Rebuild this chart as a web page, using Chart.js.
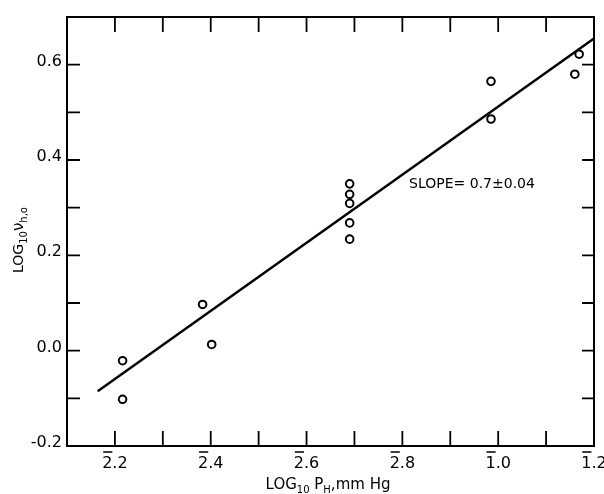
<!DOCTYPE html>
<html>
<head>
<meta charset="utf-8">
<script src="https://cdn.jsdelivr.net/npm/chart.js@4.4.1/dist/chart.umd.min.js"></script>
<style>
  html, body { margin: 0; padding: 0; background: #fff; }
  #wrap { width: 604px; height: 494px; }
</style>
</head>
<body>
<div id="wrap"><canvas id="chart" width="604" height="494"></canvas></div>
<script>
// data (x in log10 of pressure, shown in bar notation: 2̄.2 = -1.8)
const pressureLog = [-1.784, -1.784, -1.617, -1.598, -1.31, -1.31, -1.31, -1.31, -1.31, -1.015, -1.015, -0.840, -0.831];
const nuLog       = [-0.021, -0.102, 0.097, 0.013, 0.350, 0.328, 0.309, 0.268, 0.234, 0.565, 0.486, 0.580, 0.622];
const fitX = [-1.836, -0.8];
const fitY = [-0.085, 0.655];
// characteristic digit gets a bar over it (negative characteristic)
const xTickLabels = { '-18': '2.2', '-16': '2.4', '-14': '2.6', '-12': '2.8', '-10': '1.0', '-8': '1.2' };
const yTickLabels = { '-2': '-0.2', '0': '0.0', '2': '0.2', '4': '0.4', '6': '0.6' };
const slopeText = 'SLOPE= 0.7\u00b10.04';

const FONT = '"DejaVu Sans", sans-serif';

// frame, inward ticks, bars, titles and note
const frame = {
    id: 'frame',
    afterDraw(chart) {
        const { ctx, chartArea: a, scales } = chart;
        ctx.save();
        ctx.strokeStyle = '#000';
        ctx.lineWidth = 2;
        ctx.strokeRect(a.left, a.top, a.right - a.left, a.bottom - a.top);

        ctx.lineWidth = 1.8;
        ctx.beginPath();
        scales.x.ticks.forEach(t => {
            const px = scales.x.getPixelForValue(t.value);
            if (px < a.left + 3 || px > a.right - 3) return;
            ctx.moveTo(px, a.bottom); ctx.lineTo(px, a.bottom - 15);
            ctx.moveTo(px, a.top); ctx.lineTo(px, a.top + 15);
        });
        scales.y.ticks.forEach(t => {
            const py = scales.y.getPixelForValue(t.value);
            if (py < a.top + 3 || py > a.bottom - 3) return;
            ctx.moveTo(a.left, py); ctx.lineTo(a.left + 13, py);
            ctx.moveTo(a.right, py); ctx.lineTo(a.right - 12, py);
        });
        ctx.stroke();

        // bars over the characteristic digit of x labels
        ctx.font = '16px ' + FONT;
        ctx.lineWidth = 1.5;
        ctx.beginPath();
        scales.x.ticks.forEach(t => {
            const lbl = xTickLabels[String(Math.round(t.value * 10))];
            if (!lbl) return;
            const px = scales.x.getPixelForValue(t.value);
            const w = ctx.measureText(lbl).width;
            const d = ctx.measureText(lbl[0]).width;
            const x0 = px - w / 2 + 1;
            ctx.moveTo(x0, a.bottom + 6); ctx.lineTo(x0 + d - 1, a.bottom + 6);
        });
        ctx.stroke();

        ctx.fillStyle = '#000';
        ctx.textBaseline = 'alphabetic';

        // x title: LOG10 PH,mm Hg
        const partsX = [['LOG', 15, 0], ['10', 10, 4], [' P', 15, 0], ['H', 10, 4], [',mm Hg', 15, 0]];
        drawParts(ctx, partsX, 328, 489);

        // y title: LOG10 νh,o (rotated)
        ctx.save();
        ctx.translate(23, 240);
        ctx.rotate(-Math.PI / 2);
        const partsY = [['LOG', 14, 0], ['10', 10, 4], ['\u03bd', 15, 0], ['h,o', 10, 4]];
        drawParts(ctx, partsY, 0, 0);
        ctx.restore();

        // slope note
        ctx.font = '14px ' + FONT;
        ctx.textAlign = 'left';
        ctx.fillText(slopeText, scales.x.getPixelForValue(-1.186), scales.y.getPixelForValue(0.341));
        ctx.restore();
    }
};

function drawParts(ctx, parts, cx, baseY) {
    let total = 0;
    parts.forEach(p => { ctx.font = p[1] + 'px ' + FONT; total += ctx.measureText(p[0]).width; });
    let x = cx - total / 2;
    ctx.textAlign = 'left';
    parts.forEach(p => {
        ctx.font = p[1] + 'px ' + FONT;
        ctx.fillText(p[0], x, baseY + p[2]);
        x += ctx.measureText(p[0]).width;
    });
}

new Chart(document.getElementById('chart'), {
    type: 'scatter',
    data: {
        datasets: [{
            label: 'points',
            data: pressureLog.map((x, i) => ({ x, y: nuLog[i] })),
            pointRadius: 3.8,
            pointBorderWidth: 2,
            pointBorderColor: '#000',
            pointBackgroundColor: '#fff',
            showLine: false
        }, {
            label: 'fit',
            data: fitX.map((x, i) => ({ x, y: fitY[i] })),
            showLine: true,
            borderColor: '#000',
            borderWidth: 2.5,
            pointRadius: 0
        }]
    },
    options: {
        responsive: false,
        animation: false,
        layout: { padding: { top: 17, right: 10, left: 0, bottom: 0 } },
        plugins: { legend: { display: false }, tooltip: { enabled: false } },
        scales: {
            x: {
                type: 'linear',
                min: -1.9, max: -0.8,
                grid: { display: false, drawTicks: false },
                border: { display: false },
                ticks: {
                    stepSize: 0.1,
                    autoSkip: false,
                    maxRotation: 0,
                    padding: 8,
                    color: '#000',
                    font: { family: FONT, size: 16 },
                    callback: v => xTickLabels[String(Math.round(v * 10))] || ''
                },
                afterFit: s => { s.height = 48; s.paddingLeft = 0; s.paddingRight = 0; }
            },
            y: {
                type: 'linear',
                min: -0.2, max: 0.7,
                grid: { display: false, drawTicks: false },
                border: { display: false },
                ticks: {
                    stepSize: 0.1,
                    autoSkip: false,
                    padding: 5,
                    labelOffset: -3,
                    color: '#000',
                    font: { family: FONT, size: 16 },
                    callback: v => yTickLabels[String(Math.round(v * 10))] || ''
                },
                afterFit: s => { s.width = 67; s.paddingTop = 0; s.paddingBottom = 0; }
            }
        }
    },
    plugins: [frame]
});
</script>
</body>
</html>
